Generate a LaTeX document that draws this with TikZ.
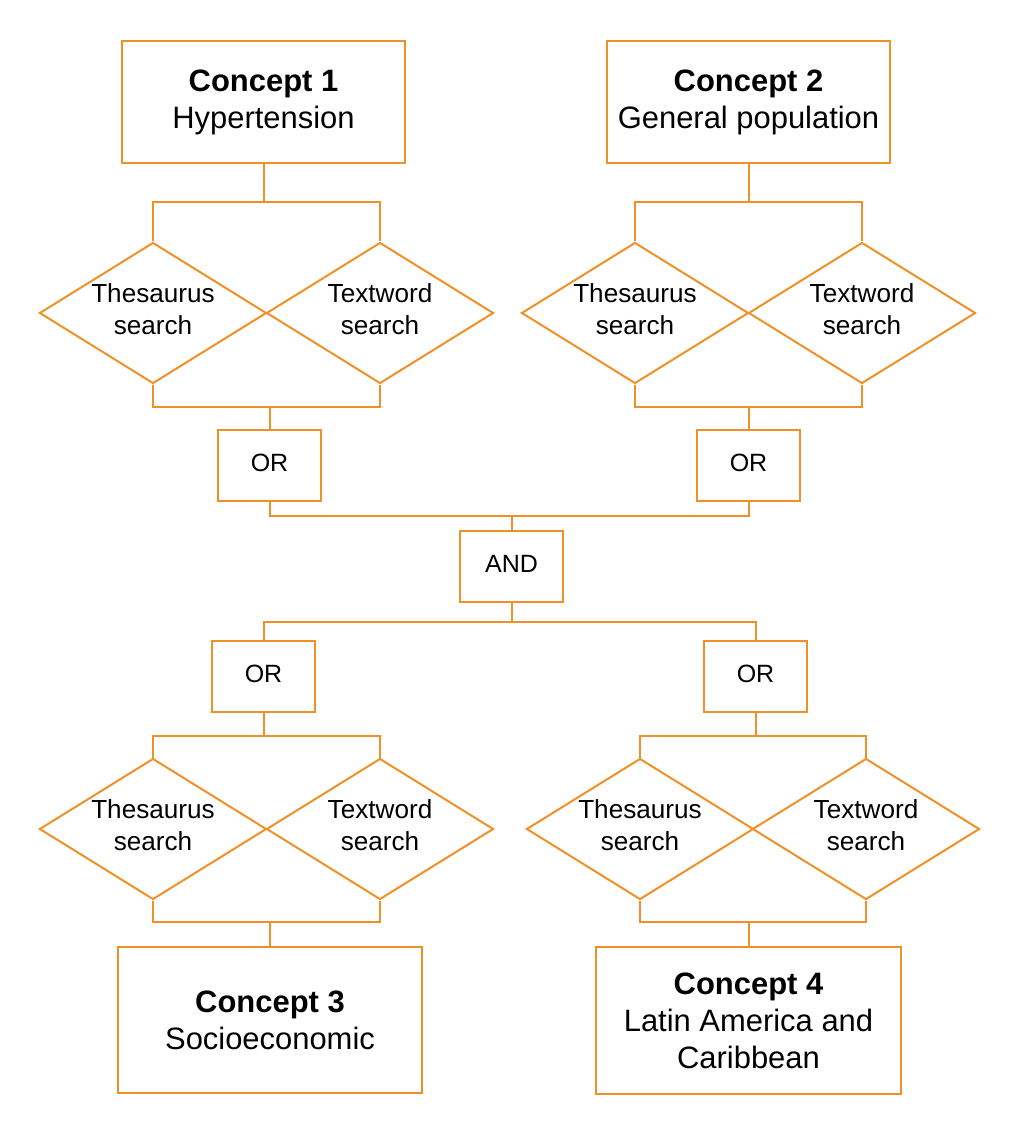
\documentclass[tikz,border=0pt]{standalone}
\usepackage{fontspec}
\setmainfont{Liberation Sans}
\usetikzlibrary{shapes.geometric}
\definecolor{org}{RGB}{239,145,40}
\tikzset{
  ln/.style={draw=org, line width=1.5pt},
  concept/.style={ln, rectangle, align=center, inner sep=0pt,
    font=\fontsize{23.2}{27.75}\selectfont},
  opbox/.style={ln, rectangle, minimum width=103*0.75pt, minimum height=71*0.75pt,
    inner sep=0pt, text depth=4.5pt, font=\fontsize{18.75}{22.5}\selectfont},
  dia/.style={ln, diamond, minimum width=227*0.75pt, minimum height=141*0.75pt,
    inner sep=0pt},
  dtext/.style={align=center, inner sep=0pt, yshift=3pt,
    font=\fontsize{19.6}{24}\selectfont},
}
\begin{document}
\begin{tikzpicture}[x=0.75pt, y=-0.75pt]
\useasboundingbox[fill=white] (0,0) rectangle (1020,1134);

% Concept boxes
\node[concept, minimum width=283*0.75pt, minimum height=122*0.75pt] (c1) at (263.5,102) {\textbf{Concept 1}\\Hypertension};
\node[concept, minimum width=283*0.75pt, minimum height=122*0.75pt] (c2) at (748.5,102) {\textbf{Concept 2}\\General population};
\node[concept, minimum width=304*0.75pt, minimum height=146*0.75pt] (c3) at (270,1020) {\textbf{Concept 3}\\Socioeconomic};
\node[concept, minimum width=305*0.75pt, minimum height=147*0.75pt] (c4) at (748.5,1020.5) {\textbf{Concept 4}\\Latin America and\\Caribbean};

% Diamonds
\node[dia, label={[dtext]center:Thesaurus\\search}] (d1a) at (153,313) {};
\node[dia, label={[dtext]center:Textword\\search}] (d1b) at (380,313) {};
\node[dia, label={[dtext]center:Thesaurus\\search}] (d2a) at (635,313) {};
\node[dia, label={[dtext]center:Textword\\search}] (d2b) at (862,313) {};
\node[dia, label={[dtext]center:Thesaurus\\search}] (d3a) at (153,829) {};
\node[dia, label={[dtext]center:Textword\\search}] (d3b) at (380,829) {};
\node[dia, label={[dtext]center:Thesaurus\\search}] (d4a) at (640,829) {};
\node[dia, label={[dtext]center:Textword\\search}] (d4b) at (866,829) {};

% Operator boxes
\node[opbox] (o1) at (269.5,465.5) {OR};
\node[opbox] (o2) at (748.5,465.5) {OR};
\node[opbox] (and) at (511.5,566.5) {AND};
\node[opbox] (o3) at (263.5,676.5) {OR};
\node[opbox] (o4) at (755.5,676.5) {OR};

% Junction coordinates
\coordinate (j1) at (263.5,202);
\coordinate (j2) at (748.5,202);
\coordinate (b1) at (269.5,407);
\coordinate (b2) at (748.5,407);
\coordinate (ja) at (511.5,516);
\coordinate (jb) at (511.5,622);
\coordinate (j3) at (263.5,736);
\coordinate (j4) at (755.5,736);
\coordinate (b3) at (270,922);
\coordinate (b4) at (748.5,922);

% Connectors, top part
\draw[ln] (c1.south) -- (j1);
\draw[ln] (d1a.north) |- (j1) -| (d1b.north);
\draw[ln] (c2.south) -- (j2);
\draw[ln] (d2a.north) |- (j2) -| (d2b.north);
\draw[ln] (d1a.south) |- (b1) -| (d1b.south);
\draw[ln] (b1) -- (o1.north);
\draw[ln] (d2a.south) |- (b2) -| (d2b.south);
\draw[ln] (b2) -- (o2.north);
\draw[ln] (o1.south) |- (ja) -| (o2.south);
\draw[ln] (ja) -- (and.north);

% Connectors, bottom part
\draw[ln] (and.south) -- (jb);
\draw[ln] (o3.north) |- (jb) -| (o4.north);
\draw[ln] (o3.south) -- (j3);
\draw[ln] (d3a.north) |- (j3) -| (d3b.north);
\draw[ln] (o4.south) -- (j4);
\draw[ln] (d4a.north) |- (j4) -| (d4b.north);
\draw[ln] (d3a.south) |- (b3) -| (d3b.south);
\draw[ln] (b3) -- (c3.north);
\draw[ln] (d4a.south) |- (b4) -| (d4b.south);
\draw[ln] (b4) -- (c4.north);
\end{tikzpicture}
\end{document}
